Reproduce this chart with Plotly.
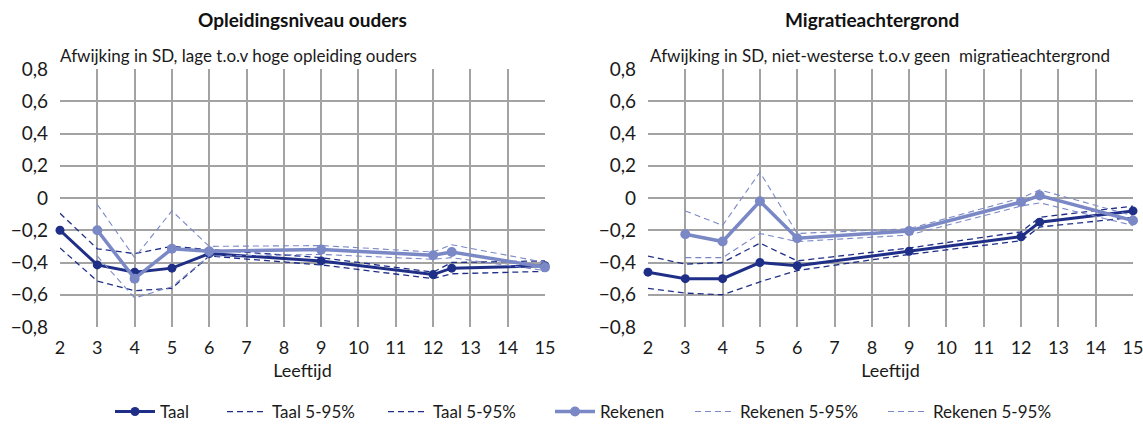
import plotly.graph_objects as go

# ---- data ----
AGES_TAAL = [2, 3, 4, 5, 6, 9, 12, 12.5, 15]
AGES_REK = [3, 4, 5, 6, 9, 12, 12.5, 15]

# Opleidingsniveau ouders
taal_opl = [-0.20, -0.415, -0.46, -0.435, -0.345, -0.39, -0.475, -0.435, -0.42]
taal_opl_lo = [-0.31, -0.515, -0.575, -0.56, -0.36, -0.415, -0.50, -0.47, -0.455]
taal_opl_hi = [-0.095, -0.315, -0.345, -0.30, -0.32, -0.37, -0.46, -0.40, -0.39]
rek_opl = [-0.20, -0.50, -0.315, -0.33, -0.32, -0.355, -0.335, -0.43]
rek_opl_lo = [-0.36, -0.62, -0.55, -0.36, -0.35, -0.38, -0.37, -0.45]
rek_opl_hi = [-0.04, -0.37, -0.08, -0.30, -0.295, -0.335, -0.29, -0.40]

# Migratieachtergrond
taal_mig = [-0.46, -0.50, -0.50, -0.40, -0.42, -0.33, -0.24, -0.15, -0.08]
taal_mig_lo = [-0.56, -0.59, -0.60, -0.52, -0.45, -0.35, -0.265, -0.18, -0.12]
taal_mig_hi = [-0.36, -0.41, -0.40, -0.28, -0.39, -0.31, -0.21, -0.12, -0.05]
rek_mig = [-0.225, -0.27, -0.02, -0.25, -0.205, -0.025, 0.015, -0.14]
rek_mig_lo = [-0.37, -0.37, -0.22, -0.27, -0.23, -0.05, -0.03, -0.17]
rek_mig_hi = [-0.08, -0.17, 0.16, -0.22, -0.19, 0.0, 0.05, -0.11]

Y_TICKS = [-0.8, -0.6, -0.4, -0.2, 0, 0.2, 0.4, 0.6, 0.8]
Y_TICKTEXT = ["\u22120,8", "\u22120,6", "\u22120,4", "\u22120,2", "0", "0,2", "0,4", "0,6", "0,8"]
X_TICKS = list(range(2, 16))

TITLES = ["Opleidingsniveau ouders", "Migratieachtergrond"]
SUBTITLES = ["Afwijking in SD, lage t.o.v hoge opleiding ouders",
             "Afwijking in SD, niet-westerse t.o.v geen  migratieachtergrond"]
X_TITLE = "Leeftijd"

DARK = "#1f2f87"
LIGHT = "#7b88c6"
FONT = "Lato"
TXT = "#1a1a1a"

W, H = 1143, 443


def px_x(p):
    return p / W


def px_y(p):
    return 1 - p / H


fig = go.Figure()

panels = [
    (taal_opl, taal_opl_lo, taal_opl_hi, rek_opl, rek_opl_lo, rek_opl_hi),
    (taal_mig, taal_mig_lo, taal_mig_hi, rek_mig, rek_mig_lo, rek_mig_hi),
]

# legend entry x positions (pixels) for each series
LEG_X = [110, 222, 383, 550, 690, 883]
legend_names = ["legend", "legend2", "legend3", "legend4", "legend5", "legend6"]

for i, (t, tlo, thi, r, rlo, rhi) in enumerate(panels):
    xa = "x" if i == 0 else "x2"
    ya = "y" if i == 0 else "y2"
    show = i == 0
    common = dict(xaxis=xa, yaxis=ya, cliponaxis=False, showlegend=show)
    specs = [
        (AGES_TAAL, t, "Taal", "lines+markers", dict(color=DARK, width=3), dict(size=9, color=DARK)),
        (AGES_TAAL, tlo, "Taal 5-95%", "lines", dict(color=DARK, width=1.3, dash="6px,4px"), None),
        (AGES_TAAL, thi, "Taal 5-95%", "lines", dict(color=DARK, width=1.3, dash="6px,4px"), None),
        (AGES_REK, r, "Rekenen", "lines+markers", dict(color=LIGHT, width=3.5), dict(size=10, color=LIGHT)),
        (AGES_REK, rlo, "Rekenen 5-95%", "lines", dict(color=LIGHT, width=1.1, dash="6px,4px"), None),
        (AGES_REK, rhi, "Rekenen 5-95%", "lines", dict(color=LIGHT, width=1.1, dash="6px,4px"), None),
    ]
    for k, (xs, ys, name, mode, line, marker) in enumerate(specs):
        kw = dict(x=xs, y=ys, name=name, mode=mode, line=line, legend=legend_names[k], **common)
        if marker:
            kw["marker"] = marker
        fig.add_trace(go.Scatter(**kw))

xdom1 = [px_x(60), px_x(545)]
xdom2 = [px_x(648), px_x(1133)]
ydom = [px_y(327), px_y(69)]

axis_font = dict(family=FONT, size=18, color=TXT)
xcommon = dict(range=[2, 15], tickvals=X_TICKS, showgrid=True, gridcolor="#a3a3a3", gridwidth=1.5,
               zeroline=False, showline=False, tickfont=axis_font, ticklabelstandoff=8,
               automargin=False, ticklabeloverflow="allow",
               title=dict(text=X_TITLE, font=dict(family=FONT, size=18, color=TXT), standoff=7))
ycommon = dict(range=[-0.8, 0.8], tickvals=Y_TICKS, ticktext=Y_TICKTEXT, showgrid=True,
               gridcolor="#a3a3a3", gridwidth=1.5, zeroline=False, showline=False,
               tickfont=dict(family=FONT, size=19, color=TXT), ticklabelstandoff=11,
               domain=ydom, automargin=False, ticklabeloverflow="allow")

layout_legends = {}
for k, ln in enumerate(legend_names):
    layout_legends[ln] = dict(orientation="h", x=px_x(LEG_X[k]), xanchor="left",
                              y=px_y(412), yanchor="middle", itemwidth=40,
                              font=dict(family=FONT, size=17, color=TXT),
                              bgcolor="rgba(0,0,0,0)")

fig.update_layout(
    width=W, height=H,
    margin=dict(l=0, r=0, t=0, b=0, autoexpand=False),
    paper_bgcolor="white", plot_bgcolor="white",
    font=dict(family=FONT, size=17, color=TXT),
    xaxis=dict(domain=xdom1, anchor="y", **xcommon),
    yaxis=dict(anchor="x", **ycommon),
    xaxis2=dict(domain=xdom2, anchor="y2", **xcommon),
    yaxis2=dict(anchor="x2", **ycommon),
    showlegend=True,
    **layout_legends,
)

title_x = [px_x(302), px_x(872)]
sub_x = [px_x(58), px_x(648)]
for i in range(2):
    fig.add_annotation(text="<b>" + TITLES[i] + "</b>", xref="paper", yref="paper",
                       x=title_x[i], y=px_y(19), xanchor="center", yanchor="middle",
                       showarrow=False, font=dict(family=FONT, size=19, color="#111"))
    fig.add_annotation(text=SUBTITLES[i], xref="paper", yref="paper",
                       x=sub_x[i], y=px_y(55), xanchor="left", yanchor="middle",
                       showarrow=False, font=dict(family=FONT, size=17, color=TXT))

fig.write_html("out.html", config={"displayModeBar": False},
               post_script="document.body.style.margin='0';")
